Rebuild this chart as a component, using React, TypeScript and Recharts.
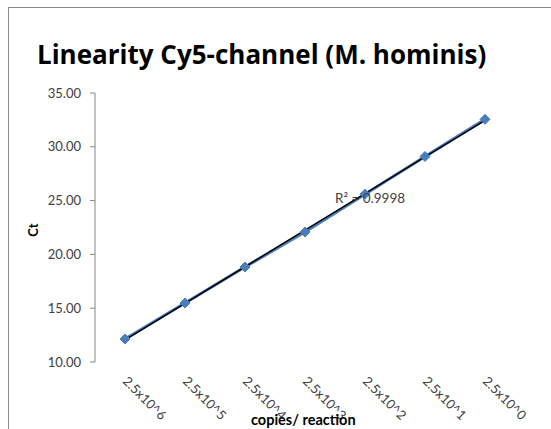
import { ComposedChart, Line, XAxis, YAxis } from 'recharts'

const categories = ['2.5x10^6', '2.5x10^5', '2.5x10^4', '2.5x10^3', '2.5x10^2', '2.5x10^1', '2.5x10^0']
const ctValues = [12.14, 15.48, 18.83, 22.08, 25.6, 29.1, 32.55]
const yTicks = [10, 15, 20, 25, 30, 35]
const boundaryTicks = [0, 1, 2, 3, 4, 5, 6, 7]
const rSquared = 'R² = 0.9998'

// linear trendline fitted to the measured Ct values
const n = ctValues.length
const meanX = (n - 1) / 2
const meanY = ctValues.reduce((a, b) => a + b, 0) / n
let sxy = 0
let sxx = 0
ctValues.forEach((v, i) => {
  sxy += (i - meanX) * (v - meanY)
  sxx += (i - meanX) * (i - meanX)
})
const slope = sxy / sxx
const intercept = meanY - slope * meanX

const data = categories.map((c, i) => ({
  x: i + 0.5,
  label: c,
  ct: ctValues[i],
  trend: intercept + slope * i,
}))

const font = 'Lato, "Open Sans", sans-serif'
const titleFont = '"Open Sans", Lato, sans-serif'

function SlantTick(props: any) {
  const { x, y, payload } = props
  const label = categories[Math.round(payload.value - 0.5)]
  const ax = x - 3
  const ay = y + 12
  return (
    <text
      x={ax}
      y={ay}
      transform={`rotate(45 ${ax} ${ay})`}
      fontSize={13}
      fontFamily={font}
      fill="#404040"
      textAnchor="start"
    >
      {label}
    </text>
  )
}

function Diamond(props: any) {
  const { cx, cy } = props
  if (cx == null || cy == null) return null
  const r = 5
  return (
    <polygon
      points={`${cx},${cy - r} ${cx + r},${cy} ${cx},${cy + r} ${cx - r},${cy}`}
      fill="#4A7EBB"
      stroke="#4A7EBB"
    />
  )
}

export default function App() {
  return (
    <div style={{ position: 'relative', width: 551, height: 429, overflow: 'hidden', fontFamily: font }}>
      <style>{'body{margin:0}'}</style>
      <div
        style={{
          position: 'absolute',
          left: 8,
          top: 7,
          width: 600,
          height: 500,
          border: '1px solid #8a8a8a',
          boxSizing: 'border-box',
        }}
      />
      <div
        style={{
          position: 'absolute',
          left: 37,
          top: 36,
          fontSize: 26,
          fontFamily: titleFont,
          fontWeight: 700,
          color: '#000',
          whiteSpace: 'nowrap',
        }}
      >
        Linearity Cy5-channel (M. hominis)
      </div>
      <ComposedChart
        width={551}
        height={429}
        data={data}
        margin={{ top: 93, right: 36, bottom: 0, left: 35 }}
        style={{ position: 'absolute', left: 0, top: 0 }}
      >
        <XAxis
          xAxisId="bounds"
          type="number"
          domain={[0, 7]}
          ticks={boundaryTicks}
          tick={false}
          tickSize={6}
          height={0}
          stroke="#868686"
          allowDataOverflow
        />
        <XAxis
          xAxisId="main"
          dataKey="x"
          type="number"
          domain={[0, 7]}
          ticks={data.map((d) => d.x)}
          tick={<SlantTick />}
          tickLine={false}
          axisLine={false}
          height={67}
          interval={0}
        />
        <YAxis
          domain={[10, 35]}
          ticks={yTicks}
          tickFormatter={(v: number) => v.toFixed(2)}
          tick={{ fontSize: 13, fill: '#404040', fontFamily: font, dx: -7 }}
          tickSize={5}
          stroke="#868686"
          width={60}
          interval={0}
        />
        <Line
          xAxisId="main"
          dataKey="ct"
          stroke="#4A7EBB"
          strokeWidth={3}
          dot={<Diamond />}
          isAnimationActive={false}
        />
        <Line
          xAxisId="main"
          dataKey="trend"
          stroke="#000"
          strokeWidth={1.5}
          dot={false}
          isAnimationActive={false}
        />
      </ComposedChart>
      <div
        style={{
          position: 'absolute',
          left: 335,
          top: 190,
          fontSize: 13.5,
          color: '#404040',
          whiteSpace: 'nowrap',
        }}
      >
        {rSquared}
      </div>
      <div
        style={{
          position: 'absolute',
          left: 18,
          top: 220,
          width: 30,
          height: 20,
          lineHeight: '20px',
          textAlign: 'center',
          fontSize: 13,
          fontWeight: 700,
          transform: 'rotate(-90deg)',
          transformOrigin: 'center',
        }}
      >
        Ct
      </div>
      <div
        style={{
          position: 'absolute',
          left: 251,
          top: 411,
          fontSize: 14.5,
          fontWeight: 700,
          whiteSpace: 'nowrap',
        }}
      >
        copies/ reaction
      </div>
    </div>
  )
}
